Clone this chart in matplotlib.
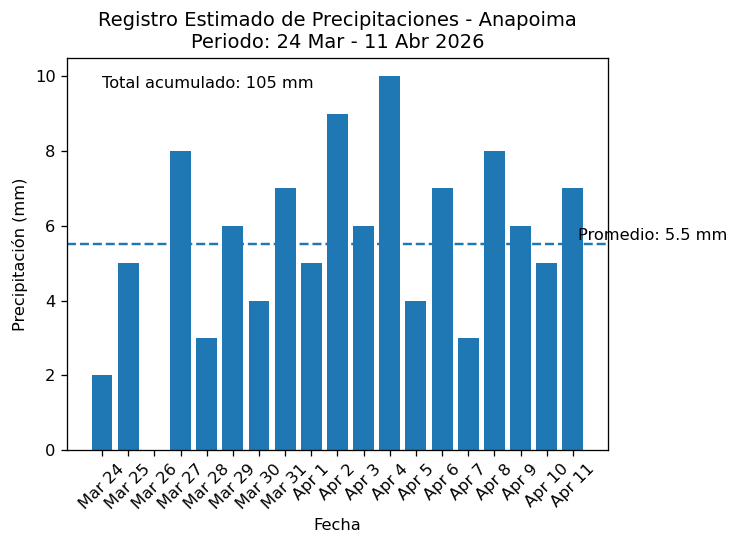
import matplotlib.pyplot as plt

# daily rainfall estimates (mm)
fechas = ["Mar 24", "Mar 25", "Mar 26", "Mar 27", "Mar 28", "Mar 29", "Mar 30",
          "Mar 31", "Apr 1", "Apr 2", "Apr 3", "Apr 4", "Apr 5", "Apr 6",
          "Apr 7", "Apr 8", "Apr 9", "Apr 10", "Apr 11"]
lluvia = [2, 5, 0, 8, 3, 6, 4, 7, 5, 9, 6, 10, 4, 7, 3, 8, 6, 5, 7]

total = sum(lluvia)
promedio = total / len(lluvia)

dpi = 117
fig = plt.figure(figsize=(732 / dpi, 535 / dpi), dpi=dpi)
ax = fig.add_axes([0.0915, 0.159, 0.739, 0.733])

ax.bar(fechas, lluvia, color="#1f77b4")
ax.axhline(promedio, linestyle="--", color="#1f77b4")
ax.text(len(fechas) - 0.8, promedio + 0.1, f"Promedio: {promedio:.1f} mm")
ax.text(0, max(lluvia) * 0.97, f"Total acumulado: {total} mm")

ax.set_title("Registro Estimado de Precipitaciones - Anapoima\n"
             "Periodo: 24 Mar - 11 Abr 2026")
ax.set_xlabel("Fecha")
ax.set_ylabel("Precipitación (mm)")
plt.setp(ax.get_xticklabels(), rotation=45)

fig.savefig("out.png", dpi=dpi)
